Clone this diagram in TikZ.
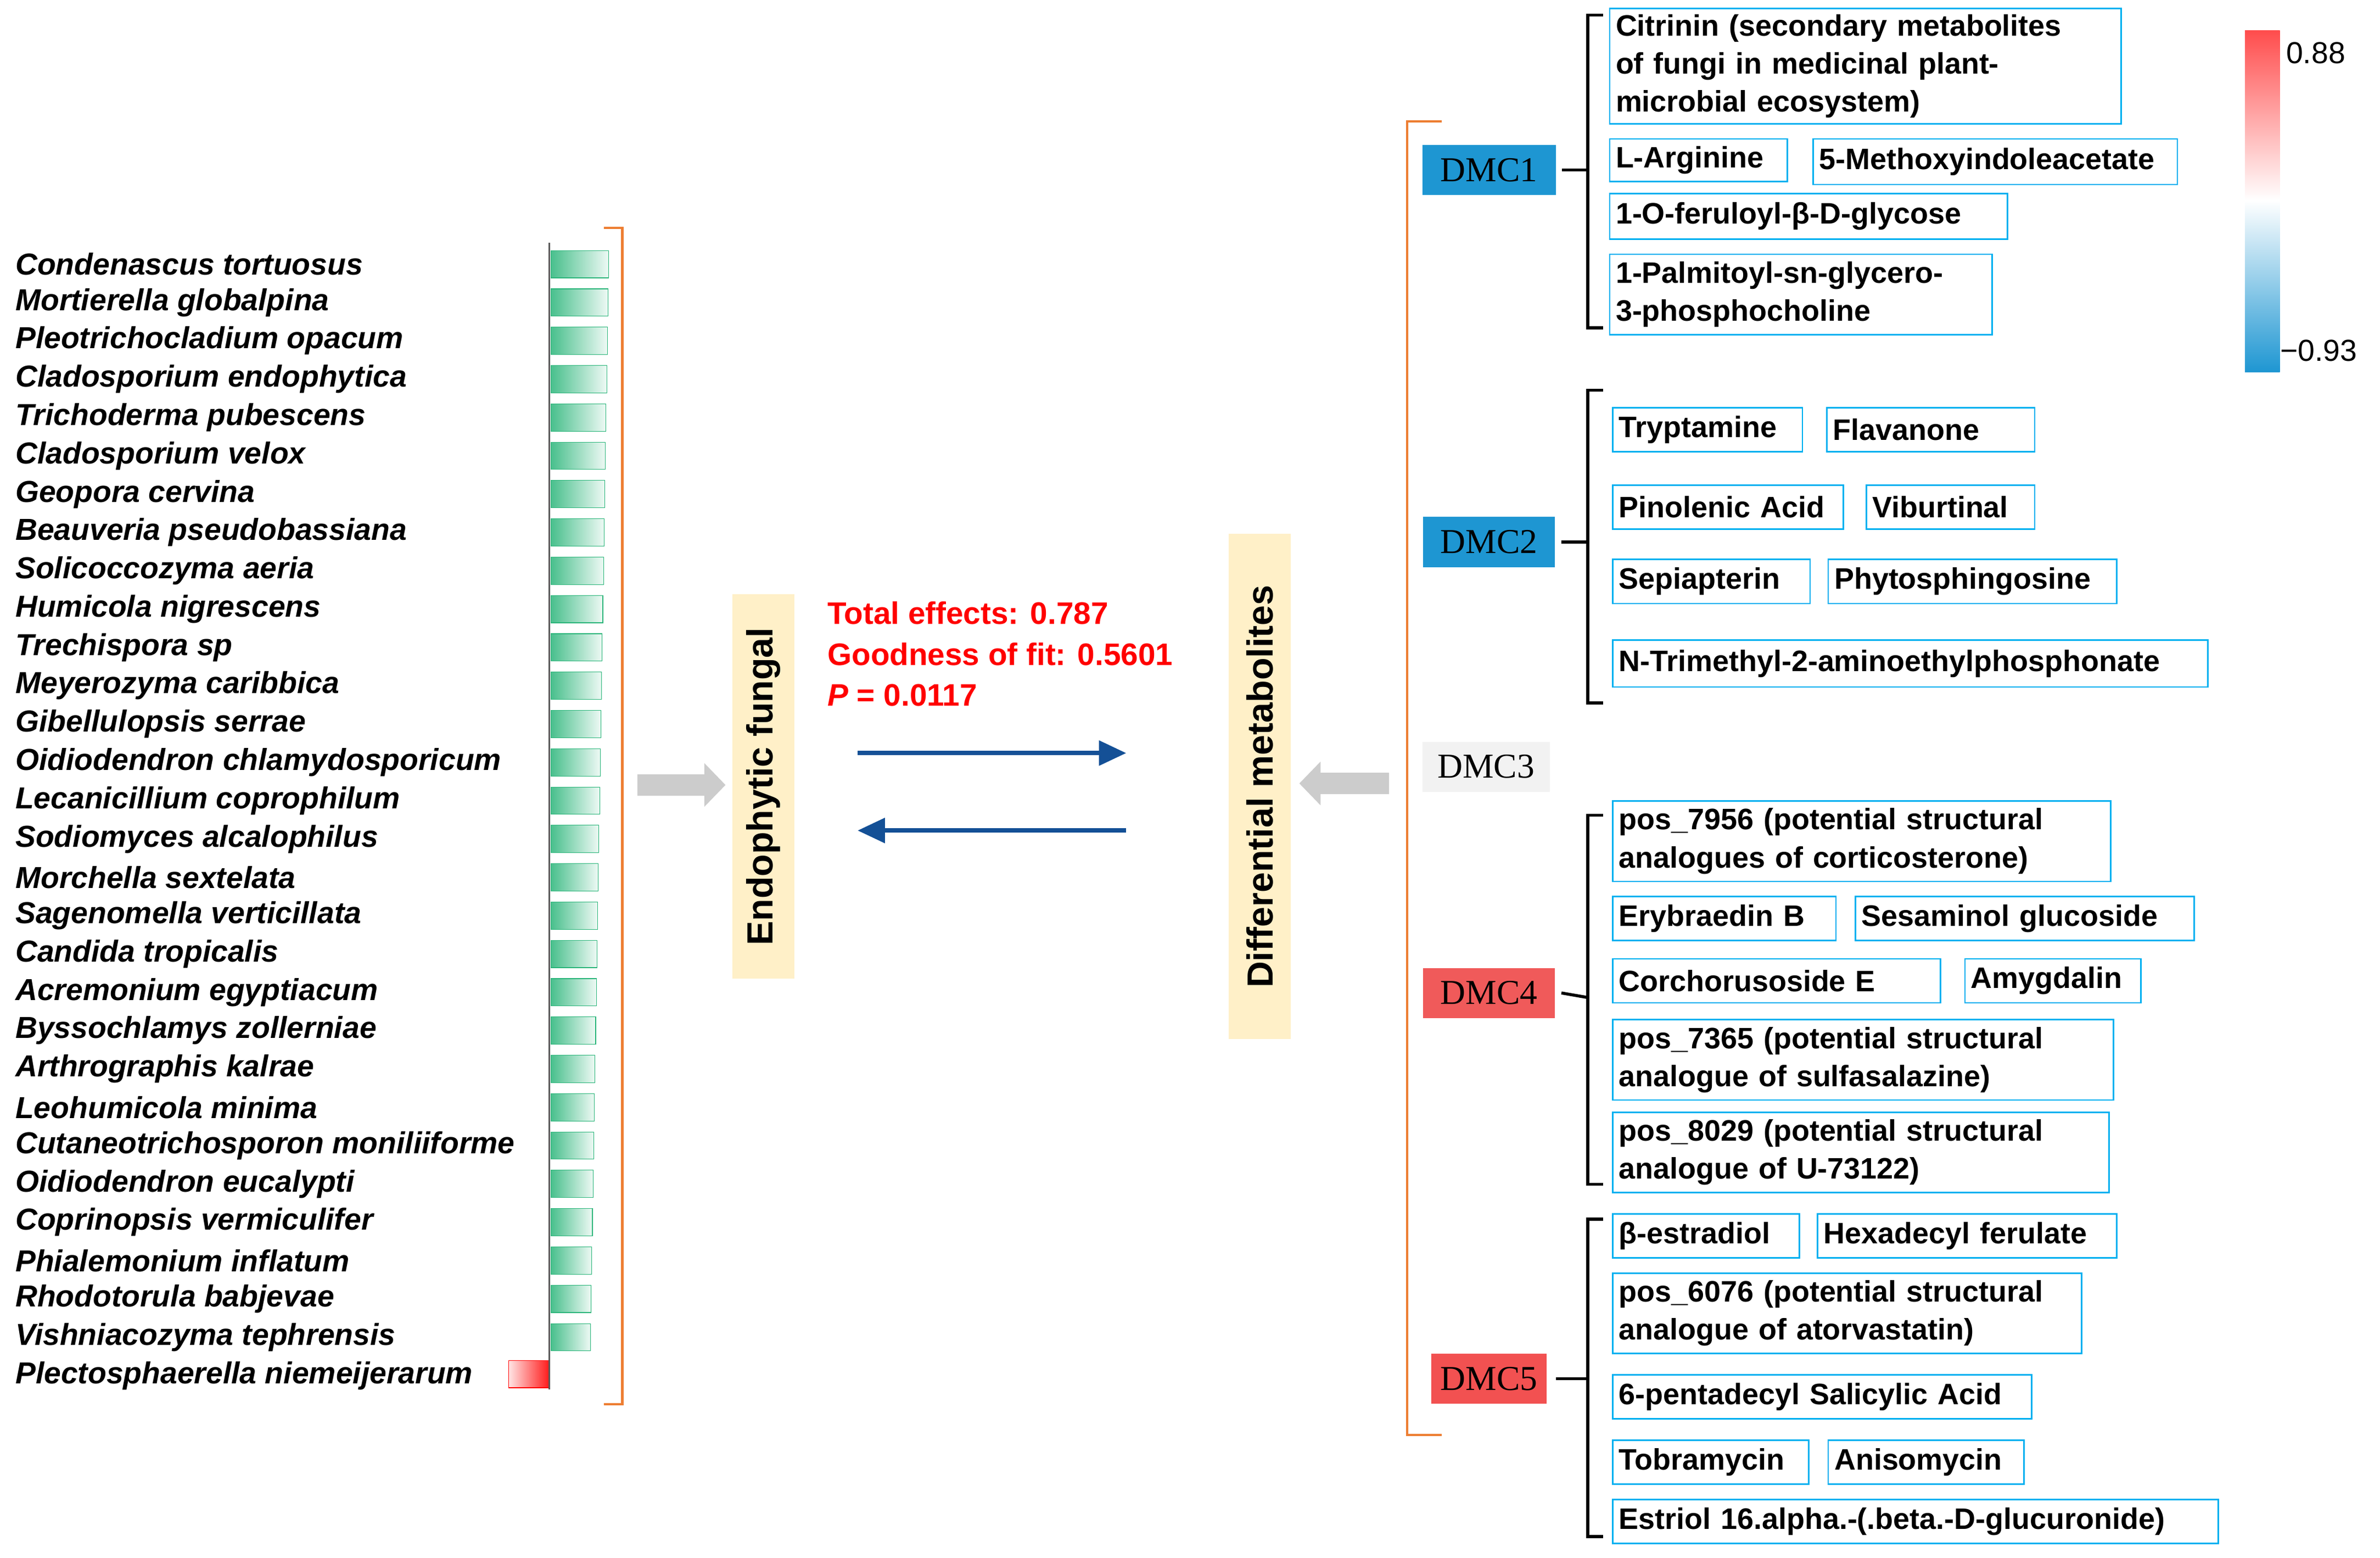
\documentclass[tikz,border=0pt]{standalone}
\usepackage{fontspec}
\setmainfont{Liberation Sans}
\newfontfamily\serf{Liberation Serif}
\usetikzlibrary{arrows.meta}
\definecolor{cy}{RGB}{0,176,240}
\definecolor{orng}{RGB}{237,125,49}
\definecolor{dblue}{RGB}{20,80,150}
\definecolor{cream}{RGB}{255,240,200}
\definecolor{bl}{RGB}{30,150,210}
\definecolor{rd}{RGB}{240,90,90}
\definecolor{gr}{RGB}{40,180,120}
\tikzset{
 box/.style={draw=cy,line width=1pt,inner xsep=4pt,inner ysep=0pt,anchor=north west,align=left,font=\fontsize{19.5}{25}\selectfont\bfseries},
 sp/.style={anchor=west,inner sep=0pt,font=\fontsize{20}{22}\selectfont\bfseries\itshape},
 dmc/.style={minimum height=33pt,inner sep=0pt,font=\fontsize{23}{24}\selectfont\serf},
 brk/.style={black,line width=2pt},
 garr/.style={gray!40,line width=14pt,-{Triangle[length=14pt,width=28pt]}},
 barr/.style={dblue,line width=3pt,-{Triangle[length=18pt,width=16pt]}},
}
\newcommand\mybx[6]{\node[box,minimum width=#4pt-#2pt,minimum height=#5pt-#3pt,text width=\dimexpr#4pt-#2pt-8pt\relax] (#1) at (#2pt,-#3pt) {#6};}
\begin{document}
\begin{tikzpicture}[x=1pt,y=1pt]
\useasboundingbox (0,0) rectangle (1568,-1026);
\foreach \n [count=\i from 0] in {Condenascus tortuosus,Mortierella globalpina,Pleotrichocladium opacum,Cladosporium endophytica,Trichoderma pubescens,Cladosporium velox,Geopora cervina,Beauveria pseudobassiana,Solicoccozyma aeria,Humicola nigrescens,Trechispora sp,Meyerozyma caribbica,Gibellulopsis serrae,Oidiodendron chlamydosporicum,Lecanicillium coprophilum,Sodiomyces alcalophilus,Morchella sextelata,Sagenomella verticillata,Candida tropicalis,Acremonium egyptiacum,Byssochlamys zollerniae,Arthrographis kalrae,Leohumicola minima,Cutaneotrichosporon moniliiforme,Oidiodendron eucalypti,Coprinopsis vermiculifer,Phialemonium inflatum,Rhodotorula babjevae,Vishniacozyma tephrensis}{
 \pgfmathsetmacro\yy{-(174+25.24*\i)}
 \pgfmathsetmacro\ww{38-12*\i/28}
 \node[sp] (s\i) at (10,\yy) {\n};
 \shade[left color=gr!85,right color=gr!8,draw=gr] (363,\yy-9) rectangle ++(\ww,18);
}
\node[sp] (s29) at (10,-906) {Plectosphaerella niemeijerarum};
\shade[left color=red!10,right color=red!90,draw=red] (335,-896) rectangle (362,-914);
\draw[gray!70!black,line width=1pt] (362,-160) -- (362,-915);
\draw[orng,line width=1.5pt] (398,-150) -- (410,-150) -- (410,-925) -- (398,-925);
\coordinate (g1) at (420,-517); \coordinate (g2) at (478,-517);
\draw[garr] (g1) -- (g2);
\node[fill=cream,rotate=90,minimum width=253pt,minimum height=41pt,inner sep=0pt,font=\fontsize{24}{26}\selectfont\bfseries] (ef) at (503,-518) {Endophytic fungal};
\node[anchor=north west,inner sep=0pt,align=left,text=red,font=\fontsize{20.5}{27}\selectfont\bfseries] (te) at (545,-396) {Total effects: 0.787\\Goodness of fit: 0.5601\\\textit{P} = 0.0117};
\node[fill=cream,rotate=90,minimum width=333pt,minimum height=41pt,inner sep=0pt,font=\fontsize{24}{26}\selectfont\bfseries] (dm) at (830,-518) {Differential metabolites};
\coordinate (a1) at (565,-496); \coordinate (a2) at (742,-496);
\coordinate (b1) at (742,-547); \coordinate (b2) at (565,-547);
\draw[barr] (a1) -- (a2);
\draw[barr] (b1) -- (b2);
\coordinate (g3) at (915,-516); \coordinate (g4) at (856,-516);
\draw[garr] (g3) -- (g4);
\draw[orng,line width=1.5pt] (950,-80) -- (927,-80) -- (927,-945) -- (950,-945);
\node[dmc,fill=bl,minimum width=88pt] (d1) at (981,-112) {DMC1};
\node[dmc,fill=bl,minimum width=87pt] (d2) at (981,-357) {DMC2};
\node[dmc,fill=gray!10,minimum width=84pt] (d3) at (979,-505) {DMC3};
\node[dmc,fill=rd,minimum width=87pt] (d4) at (981,-654) {DMC4};
\node[dmc,fill=rd!90!red,minimum width=76pt] (d5) at (981,-908) {DMC5};
\draw[brk] (1056,-10) -- (1046,-10) -- (1046,-216) -- (1056,-216); \draw[brk] (d1.east)++(4,0) -- (1046,-112);
\draw[brk] (1056,-257) -- (1046,-257) -- (1046,-463) -- (1056,-463); \draw[brk] (d2.east)++(4,0) -- (1046,-357);
\draw[brk] (1056,-537) -- (1046,-537) -- (1046,-780) -- (1056,-780); \draw[brk] (d4.east)++(4,0) -- (1046,-657);
\draw[brk] (1056,-803) -- (1046,-803) -- (1046,-1012) -- (1056,-1012); \draw[brk] (d5.east)++(6,0) -- (1046,-908);
\mybx{m1}{1060}{5}{1397}{81}{Citrinin (secondary metabolites\\of fungi in medicinal plant-\\microbial ecosystem)}
\mybx{m2}{1060}{91}{1177}{119}{L-Arginine}
\mybx{m3}{1194}{91}{1434}{121}{5-Methoxyindoleacetate}
\mybx{m4}{1060}{127}{1322}{157}{1-O-feruloyl-β-D-glycose}
\mybx{m5}{1060}{167}{1312}{220}{1-Palmitoyl-sn-glycero-\\3-phosphocholine}
\mybx{m6}{1062}{268}{1187}{297}{Tryptamine}
\mybx{m7}{1203}{268}{1340}{297}{Flavanone}
\mybx{m8}{1062}{319}{1214}{348}{Pinolenic Acid}
\mybx{m9}{1229}{319}{1340}{348}{Viburtinal}
\mybx{m10}{1062}{368}{1192}{397}{Sepiapterin}
\mybx{m11}{1204}{368}{1394}{397}{Phytosphingosine}
\mybx{m12}{1062}{421}{1454}{452}{N-Trimethyl-2-aminoethylphosphonate}
\mybx{m13}{1062}{527}{1390}{580}{pos\_7956 (potential structural\\analogues of corticosterone)}
\mybx{m14}{1062}{590}{1209}{619}{Erybraedin B}
\mybx{m15}{1222}{590}{1445}{619}{Sesaminol glucoside}
\mybx{m16}{1062}{631}{1278}{660}{Corchorusoside E}
\mybx{m17}{1294}{631}{1410}{660}{Amygdalin}
\mybx{m18}{1062}{671}{1392}{724}{pos\_7365 (potential structural\\analogue of sulfasalazine)}
\mybx{m19}{1062}{732}{1389}{785}{pos\_8029 (potential structural\\analogue of U-73122)}
\mybx{m20}{1062}{799}{1185}{828}{β-estradiol}
\mybx{m21}{1197}{799}{1394}{828}{Hexadecyl ferulate}
\mybx{m22}{1062}{838}{1371}{891}{pos\_6076 (potential structural\\analogue of atorvastatin)}
\mybx{m23}{1062}{905}{1338}{934}{6-pentadecyl Salicylic Acid}
\mybx{m24}{1062}{948}{1191}{977}{Tobramycin}
\mybx{m25}{1204}{948}{1333}{977}{Anisomycin}
\mybx{m26}{1062}{987}{1461}{1016}{Estriol 16.alpha.-(.beta.-D-glucuronide)}
\shade[top color=red!70,bottom color=white] (1479,-20) rectangle (1502,-132);
\shade[top color=white,bottom color=bl] (1479,-132) rectangle (1502,-245);
\node[anchor=west,inner sep=0pt,font=\fontsize{20}{22}\selectfont] (c1) at (1506,-35) {0.88};
\node[anchor=west,inner sep=0pt,font=\fontsize{20}{22}\selectfont] (c2) at (1502,-231) {−0.93};
\end{tikzpicture}
\end{document}
